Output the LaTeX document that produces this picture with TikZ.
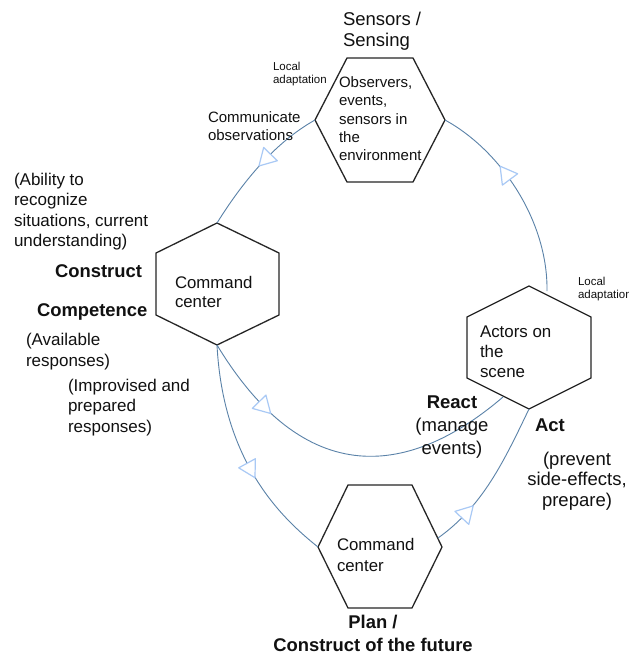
\documentclass[tikz,border=0pt]{standalone}
\usepackage{fontspec}
\setmainfont{Liberation Sans}
\usetikzlibrary{decorations.markings}
\definecolor{flow}{HTML}{5A82A8}
\definecolor{arrowblue}{HTML}{A9C9F5}
\definecolor{ink}{HTML}{111111}
\tikzset{
  hexline/.style={draw=black!85, line width=1.3pt, line join=miter},
  flowline/.style={draw=flow, line width=0.9pt},
  tri/.style={draw=arrowblue, fill=white, line width=1.2pt, line join=round},
  flowarrow/.style={postaction={decorate}, decoration={markings,
      mark=at position #1 with {\draw[tri] (11pt,0pt) -- (-5.5pt,9.5pt) -- (-5.5pt,-9.5pt) -- cycle;}}},
  txt/.style={inner sep=0pt, outer sep=0pt, text=ink, anchor=base west, align=left},
  ctxt/.style={inner sep=0pt, outer sep=0pt, text=ink, anchor=base, align=center},
}
\begin{document}
\begin{tikzpicture}[x=1pt, y=-1pt]
\useasboundingbox[fill=white] (0,0) rectangle (629,656);

% ---- hexagon vertices ----
% Sensors (flat top)
\coordinate (sL) at (315,120);
\coordinate (sTL) at (347,58);
\coordinate (sTR) at (413,58);
\coordinate (sR) at (445,120);
\coordinate (sBR) at (413,182);
\coordinate (sBL) at (347,182);
% Command center, left (pointy top)
\coordinate (cT) at (217,223);
\coordinate (cUR) at (279,253);
\coordinate (cLR) at (279,315);
\coordinate (cB) at (217,345);
\coordinate (cLL) at (156,315);
\coordinate (cUL) at (156,253);
% Actors (pointy top)
\coordinate (aT) at (529,286);
\coordinate (aUR) at (591,317);
\coordinate (aLR) at (591,378);
\coordinate (aB) at (529,409);
\coordinate (aLL) at (467,378);
\coordinate (aUL) at (467,317);
% Command center, bottom (flat top)
\coordinate (bL) at (318,547);
\coordinate (bTL) at (348,485);
\coordinate (bTR) at (412,485);
\coordinate (bR) at (442,547);
\coordinate (bBR) at (412,608);
\coordinate (bBL) at (348,608);
% free connector ends
\coordinate (aOut) at (547,291);
\coordinate (aIn) at (503,397);
\coordinate (bOut) at (438,538);

\draw[hexline] (sL) -- (sTL) -- (sTR) -- (sR) -- (sBR) -- (sBL) -- cycle;
\draw[hexline] (cT) -- (cUR) -- (cLR) -- (cB) -- (cLL) -- (cUL) -- cycle;
\draw[hexline] (aT) -- (aUR) -- (aLR) -- (aB) -- (aLL) -- (aUL) -- cycle;
\draw[hexline] (bL) -- (bTL) -- (bTR) -- (bR) -- (bBR) -- (bBL) -- cycle;

% ---- connectors ----
\draw[flowline, flowarrow=0.43] (sL) .. controls (274,143) and (242,183) .. (cT);
\draw[flowline, flowarrow=0.6] (aOut) .. controls (548,220) and (500,150) .. (sR);
\draw[flowline, flowarrow=0.22] (cB) .. controls (311,500) and (419,469) .. (aIn);
\draw[flowline, flowarrow=0.55] (cB) .. controls (223,460) and (279,516) .. (bL);
\draw[flowline, flowarrow=0.23] (bOut) .. controls (483,506) and (504,461) .. (aB);

% ---- texts (anchor = baseline of the last line) ----
\node[txt, font=\fontsize{18.5}{21}\selectfont] (sensTitle) at (343,46) {Sensors /\\Sensing};
\node[txt, font=\fontsize{15}{18.3}\selectfont] (sensBody) at (339,160.7) {Observers,\\events,\\sensors in\\the\\environment};
\node[txt, font=\fontsize{11.5}{13}\selectfont] (locA) at (273,83.7) {Local\\adaptation};
\node[txt, font=\fontsize{15}{18}\selectfont] (commObs) at (208,140) {Communicate\\observations};
\node[txt, font=\fontsize{17}{20.5}\selectfont] (ability) at (14,246.5) {(Ability to\\recognize\\situations, current\\understanding)};
\node[txt, font=\fontsize{18.4}{22}\selectfont\bfseries] (construct) at (55,277.5) {Construct};
\node[txt, font=\fontsize{18.4}{22}\selectfont\bfseries] (competence) at (37,316) {Competence};
\node[txt, font=\fontsize{17}{21}\selectfont] (avail) at (26,366) {(Available\\responses)};
\node[txt, font=\fontsize{17}{20.7}\selectfont] (improv) at (68,432.4) {(Improvised and\\prepared\\responses)};
\node[txt, font=\fontsize{16.8}{19.5}\selectfont] (cmdA) at (175,307.5) {Command\\center};
\node[txt, font=\fontsize{16.9}{20}\selectfont] (actors) at (480,377) {Actors on\\the\\scene};
\node[txt, font=\fontsize{11.5}{13.5}\selectfont] (locB) at (578,298.5) {Local\\adaptation};
\node[ctxt, font=\fontsize{18.5}{23}\selectfont] (react) at (452,454) {\textbf{React}\\(manage\\events)};
\node[txt, font=\fontsize{18.5}{22}\selectfont\bfseries] (act) at (535,431.7) {Act};
\node[ctxt, font=\fontsize{18.5}{20.5}\selectfont] (prevent) at (577,506) {(prevent\\side-effects,\\prepare)};
\node[txt, font=\fontsize{16.8}{21}\selectfont] (cmdB) at (337,571.7) {Command\\center};
\node[ctxt, font=\fontsize{18.4}{23.4}\selectfont\bfseries] (plan) at (373,651.7) {Plan /\\Construct of the future};
\end{tikzpicture}
\end{document}
